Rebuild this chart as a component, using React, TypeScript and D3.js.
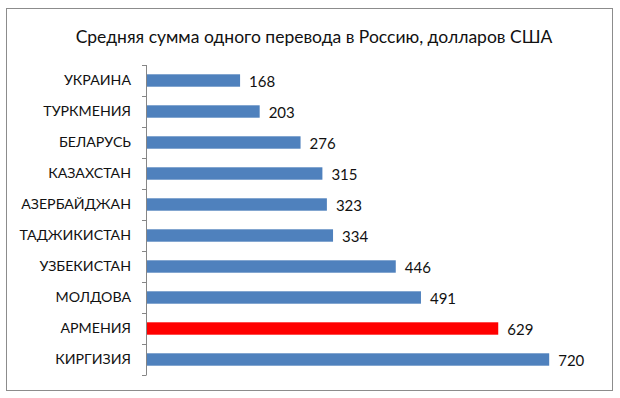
import React from 'react';
import { select, scaleBand, scaleLinear, axisLeft } from 'd3';

const title = 'Средняя сумма одного перевода в Россию, долларов США';
const countries = ['УКРАИНА', 'ТУРКМЕНИЯ', 'БЕЛАРУСЬ', 'КАЗАХСТАН', 'АЗЕРБАЙДЖАН', 'ТАДЖИКИСТАН', 'УЗБЕКИСТАН', 'МОЛДОВА', 'АРМЕНИЯ', 'КИРГИЗИЯ'];
const amounts = [168, 203, 276, 315, 323, 334, 446, 491, 629, 720];
const highlighted = ['АРМЕНИЯ'];

export default function App() {
  const svgRef = React.useRef<SVGSVGElement>(null);

  React.useEffect(() => {
    const svg = select(svgRef.current);
    svg.selectAll('*').remove();
    const font = "Lato, 'Open Sans', sans-serif";

    svg.append('rect')
      .attr('x', 6.5).attr('y', 8.5)
      .attr('width', 606).attr('height', 382)
      .attr('fill', '#fff').attr('stroke', '#8c8c8c');

    svg.append('text')
      .attr('x', 314).attr('y', 43)
      .attr('text-anchor', 'middle')
      .attr('font-family', font).attr('font-size', 17.5)
      .attr('fill', '#111')
      .text(title);

    const yScale = scaleBand().domain(countries).range([65, 375]).paddingInner(0.6).paddingOuter(0.3);
    const xScale = scaleLinear().domain([0, 800]).range([146, 594]);

    // axis line + ticks between categories
    const axis = svg.append('g').attr('transform', 'translate(146,0)');
    axis.append('line')
      .attr('x1', 0.5).attr('x2', 0.5).attr('y1', 65).attr('y2', 375)
      .attr('stroke', '#868686');
    const step = 310 / countries.length;
    axis.selectAll('.tick-mark')
      .data([...countries.keys(), countries.length])
      .join('line')
      .attr('class', 'tick-mark')
      .attr('x1', -4).attr('x2', 0.5)
      .attr('y1', i => 65 + i * step + 0.5)
      .attr('y2', i => 65 + i * step + 0.5)
      .attr('stroke', '#868686');

    const labelAxis = axisLeft(yScale).tickSize(0).tickPadding(15);
    const lg = svg.append('g').attr('transform', 'translate(146,0)').call(labelAxis);
    lg.select('.domain').remove();
    lg.selectAll('text')
      .attr('font-family', font).attr('font-size', 14.2)
      .attr('fill', '#111');

    svg.selectAll('.bar')
      .data(countries)
      .join('rect')
      .attr('class', 'bar')
      .attr('x', xScale(0) + 1)
      .attr('y', d => yScale(d))
      .attr('width', (d, i) => xScale(amounts[i]) - xScale(0) - 1)
      .attr('height', yScale.bandwidth())
      .attr('fill', d => (highlighted.includes(d) ? '#ff0000' : '#4f81bd'));

    svg.selectAll('.value')
      .data(countries)
      .join('text')
      .attr('class', 'value')
      .attr('x', (d, i) => xScale(amounts[i]) + 9)
      .attr('y', d => yScale(d) + yScale.bandwidth() / 2 + 6)
      .attr('font-family', font).attr('font-size', 15)
      .attr('fill', '#111')
      .text((d, i) => amounts[i]);
  }, []);

  return (
    <svg ref={svgRef} width={620} height={398} style={{ position: 'absolute', left: 0, top: 0 }} />
  );
}
